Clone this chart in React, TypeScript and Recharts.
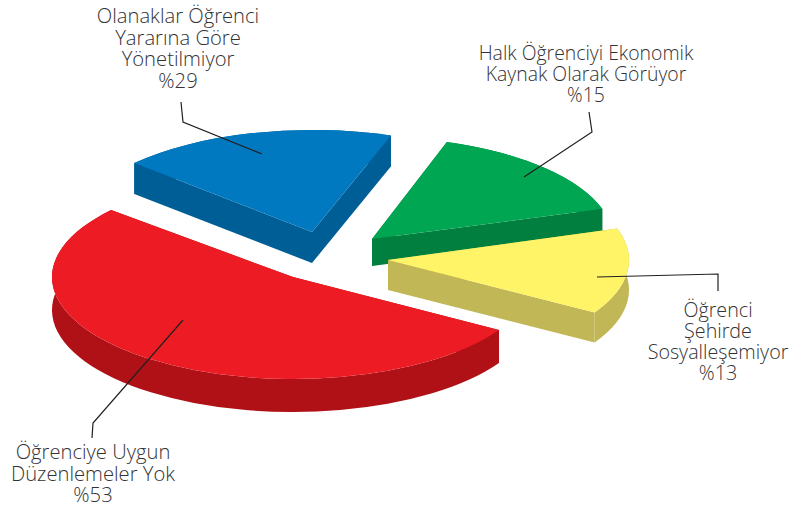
import { PieChart, Pie } from "recharts";

const WIDTH = 793;
const HEIGHT = 508;

// Slices in back-to-front order so the nearer ones paint over the others
const categories = [
  "Olanaklar Öğrenci Yararına Göre Yönetilmiyor",
  "Halk Öğrenciyi Ekonomik Kaynak Olarak Görüyor",
  "Öğrenci Şehirde Sosyalleşemiyor",
  "Öğrenciye Uygun Düzenlemeler Yok",
];
// share of the circle as drawn; the printed label for the blue slice says 29
const sliceShares = [18.5, 15.2, 13.6, 52.7];
const printedValues = ["%29", "%15", "%13", "%53"];
const labelLines = [
  ["Olanaklar Öğrenci", "Yararına Göre", "Yönetilmiyor"],
  ["Halk Öğrenciyi Ekonomik", "Kaynak Olarak Görüyor"],
  ["Öğrenci", "Şehirde", "Sosyalleşemiyor"],
  ["Öğrenciye Uygun", "Düzenlemeler Yok"],
];

const topColors = ["#0079C1", "#00A651", "#FFF467", "#ED1C24"];
const sideColors = ["#005E97", "#007F3E", "#C1B756", "#B01116"];

// layout of the exploded 3D look
const explodeX = [19, 79, 95, 0];
const explodeY = [-45, -38, -17, 0];
const sliceTurn = [0, 1, 1.8, 1.5];
const sliceDepth = [31, 27, 30, 33];
const SQUASH = 102 / 241;

// text anchors: centre x, first baseline y, line step, font size
const labelX = [178, 586, 718, 93];
const labelY = [23, 60, 317, 459];
const labelStep = [21.7, 21, 21, 21.5];
const labelSize = [20.2, 19.4, 19.7, 20.2];
const leaders = [
  "181,102 183,122 262,154",
  "589,112 592,132 524,177",
  "718,291 718,274 597,277",
  "92,438 93,423 183,320",
];

const tableData = categories.map((name, i) => ({ name, value: sliceShares[i] }));

const SliceShape = (props: any) => {
  const { cx, cy, outerRadius, startAngle, endAngle } = props;
  const i = categories.indexOf(props.name ?? props.payload?.name);
  const ox = cx + explodeX[i];
  const oy = cy + explodeY[i];
  const rx = outerRadius;
  const ry = outerRadius * SQUASH;
  const depth = sliceDepth[i];
  const a0 = ((startAngle + sliceTurn[i]) * Math.PI) / 180;
  const a1 = ((endAngle + sliceTurn[i]) * Math.PI) / 180;
  const x0 = ox + rx * Math.cos(a0);
  const y0 = oy - ry * Math.sin(a0);
  const x1 = ox + rx * Math.cos(a1);
  const y1 = oy - ry * Math.sin(a1);
  const large = Math.abs(startAngle - endAngle) > 180 ? 1 : 0;

  const top = `M${ox},${oy} L${x0},${y0} A${rx},${ry} 0 ${large} 1 ${x1},${y1} Z`;
  const wall =
    `M${x0},${y0} A${rx},${ry} 0 ${large} 1 ${x1},${y1} L${x1},${y1 + depth} ` +
    `A${rx},${ry} 0 ${large} 0 ${x0},${y0 + depth} Z`;
  const left = `M${ox},${oy} L${x0},${y0} L${x0},${y0 + depth} L${ox},${oy + depth} Z`;
  const right = `M${ox},${oy} L${x1},${y1} L${x1},${y1 + depth} L${ox},${oy + depth} Z`;

  return (
    <g>
      <path d={wall} fill={sideColors[i]} />
      <path d={left} fill={sideColors[i]} />
      <path d={right} fill={sideColors[i]} />
      <path d={top} fill={topColors[i]} />
    </g>
  );
};

const SliceLabel = (props: any) => {
  const i = props.index;
  const lines = [...labelLines[i], printedValues[i]];
  return (
    <g>
      <polyline points={leaders[i]} fill="none" stroke="#231F20" strokeWidth={1.2} />
      <text
        textAnchor="middle"
        fill="#333335"
        fontFamily="'Open Sans', sans-serif"
        fontWeight={300}
        fontSize={labelSize[i]}
      >
        {lines.map((line, k) => (
          <tspan key={k} x={labelX[i]} y={labelY[i] + k * labelStep[i]}>
            {line}
          </tspan>
        ))}
      </text>
    </g>
  );
};

export default function App() {
  return (
    <div style={{ position: "absolute", left: 0, top: 0, width: WIDTH, height: HEIGHT, background: "#fff" }}>
      <PieChart width={WIDTH} height={HEIGHT} margin={{ top: 0, right: 0, bottom: 0, left: 0 }}>
        <Pie
          data={tableData}
          dataKey="value"
          nameKey="name"
          cx={293}
          cy={277}
          innerRadius={0}
          outerRadius={241}
          startAngle={137.5}
          endAngle={-222.5}
          stroke="none"
          shape={SliceShape}
          label={SliceLabel}
          labelLine={false}
          isAnimationActive={false}
        />
      </PieChart>
    </div>
  );
}
